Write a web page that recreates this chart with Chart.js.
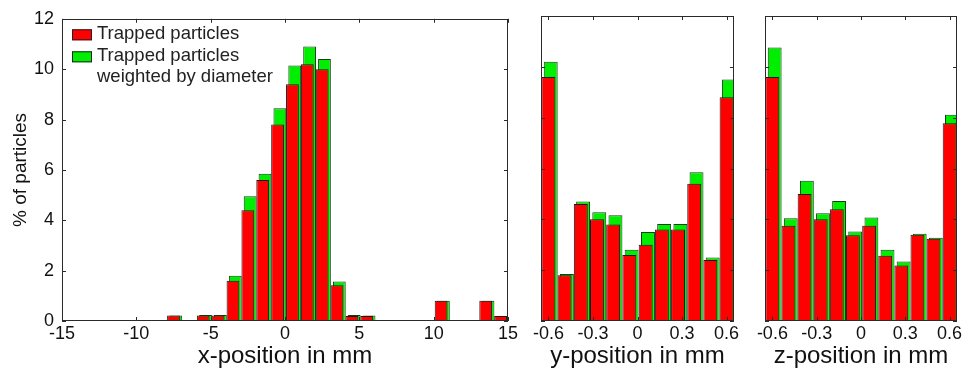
<!DOCTYPE html>
<html>
<head>
<meta charset="utf-8">
<script src="https://cdn.jsdelivr.net/npm/chart.js@4.4.0/dist/chart.umd.min.js"></script>
<style>
body{margin:0;background:#fff;}
#wrap{position:relative;width:972px;height:369px;}
#wrap canvas{position:absolute;left:0;top:0;}
</style>
</head>
<body>
<div id="wrap">
<canvas id="cx" width="972" height="369"></canvas>
<canvas id="cy" width="972" height="369"></canvas>
<canvas id="cz" width="972" height="369"></canvas>
</div>
<script>
// x-position histogram, only the bins that have particles
const xBins=[-7.5,-5.5,-4.5,-3.5,-2.5,-1.5,-0.5,0.5,1.5,2.5,3.5,4.5,5.5,10.5,13.5,14.5];
const xTrapped=[0.22,0.22,0.22,1.6,4.4,5.6,7.8,9.4,10.2,10.0,1.42,0.2,0.2,0.8,0.8,0.2];
const xWeighted=[0.22,0.24,0.24,1.8,4.95,5.85,8.45,10.15,10.9,10.4,1.57,0.24,0.22,0.8,0.8,0.2];

// y and z use the same bin centres
const posBins=[-0.6,-0.491,-0.382,-0.273,-0.164,-0.055,0.055,0.164,0.273,0.382,0.491,0.6];
const yTrapped=[9.6,1.8,4.6,4.0,3.8,2.6,3.0,3.6,3.6,5.4,2.4,8.8];
const yWeighted=[10.2,1.85,4.7,4.28,4.16,2.8,3.5,3.82,3.82,5.85,2.5,9.5];
const zTrapped=[9.6,3.75,5.0,4.0,4.4,3.37,3.75,2.57,2.18,3.39,3.24,7.78];
const zWeighted=[10.76,4.04,5.52,4.24,4.72,3.52,4.07,2.8,2.34,3.43,3.28,8.11];

const xTicks=[-15,-10,-5,0,5,10,15];
const posTicks=[-0.6,-0.3,0,0.3,0.6];
const pctTicks=[0,2,4,6,8,10,12];
const seriesNames=['Trapped particles',['Trapped particles','weighted by diameter']];

const FONT='"Liberation Sans", Arial, Helvetica, sans-serif';
Chart.defaults.font.family=FONT;

// matlab style box with inward ticks
const frame={
  id:'frame',
  afterDraw(chart,args,opts){
    const ctx=chart.ctx,a=chart.chartArea,s=chart.scales;
    ctx.save();
    ctx.strokeStyle='#2a2a2a';
    ctx.lineWidth=1;
    ctx.strokeRect(Math.round(a.left)+0.5,Math.round(a.top)+0.5,Math.round(a.width)-1,Math.round(a.height)-1);
    ctx.beginPath();
    opts.ticks.forEach(v=>{
      const px=Math.round(s.x.getPixelForValue(v))+0.5;
      ctx.moveTo(px,a.bottom);ctx.lineTo(px,a.bottom-4);
      ctx.moveTo(px,a.top);ctx.lineTo(px,a.top+4);
    });
    pctTicks.forEach(v=>{
      const py=Math.round(s.y.getPixelForValue(v))+0.5;
      ctx.moveTo(a.left,py);ctx.lineTo(a.left+4,py);
      ctx.moveTo(a.right,py);ctx.lineTo(a.right-4,py);
    });
    ctx.stroke();
    ctx.restore();
  }
};

const legendBox={
  id:'legendBox',
  afterDraw(chart){
    const ctx=chart.ctx,a=chart.chartArea;
    ctx.save();
    ctx.font='18.5px '+FONT;
    ctx.textBaseline='middle';
    let y=a.top+15.5;
    chart.data.datasets.forEach(d=>{
      ctx.fillStyle=d.backgroundColor;
      ctx.fillRect(a.left+10,y-5,20,11);
      ctx.strokeStyle='#222';
      ctx.strokeRect(a.left+10.5,y-4.5,19,10);
      ctx.fillStyle='#222';
      const lines=[].concat(d.label);
      lines.forEach((t,i)=>ctx.fillText(t,a.left+35,y+i*21));
      y+=22+21*(lines.length-1);
    });
    ctx.restore();
  }
};

function makePanel(id,cfg){
  const areaW=972-cfg.left-cfg.right;
  const shift=(cfg.max-cfg.min)*2.3/areaW;
  const tickFont={size:18,family:FONT};
  return new Chart(document.getElementById(id),{
    type:'bar',
    data:{
      datasets:[
        {label:seriesNames[0],data:cfg.bins.map((b,i)=>({x:b,y:cfg.red[i]})),
         backgroundColor:'#ff0000',borderColor:'#1a1a1a',borderWidth:1,xAxisID:'x'},
        {label:seriesNames[1],data:cfg.bins.map((b,i)=>({x:b,y:cfg.green[i]})),
         backgroundColor:'#00ee00',borderColor:'#1a3a1a',borderWidth:1,xAxisID:'x2'}
      ]
    },
    options:{
      responsive:false,
      animation:false,
      devicePixelRatio:1,
      grouped:false,
      barPercentage:0.86,
      categoryPercentage:1,
      layout:{padding:{left:cfg.showY?0:cfg.left,right:cfg.right,top:16,bottom:0}},
      plugins:{legend:{display:false},tooltip:{enabled:false},frame:{ticks:cfg.ticks}},
      scales:{
        x:{type:'linear',min:cfg.min,max:cfg.max,offset:false,
          afterBuildTicks:s=>{s.ticks=cfg.ticks.map(v=>({value:v}));},
          afterFit:s=>{s.height=48;},
          grid:{display:false,drawTicks:false},border:{display:false},
          ticks:{color:'#111',font:tickFont,padding:2,maxRotation:0,autoSkip:false,callback:v=>String(v)},
          title:{display:true,text:cfg.title,color:'#111',font:{size:24,family:FONT},padding:{top:0,bottom:-2}}
        },
        x2:{type:'linear',display:false,offset:false,min:cfg.min-shift,max:cfg.max-shift},
        y:{min:0,max:12,display:cfg.showY,
          afterBuildTicks:s=>{s.ticks=pctTicks.map(v=>({value:v}));},
          afterFit:s=>{if(cfg.showY)s.width=62;},
          grid:{display:false,drawTicks:false},border:{display:false},
          ticks:{color:'#111',font:tickFont,padding:8},
          title:{display:true,text:'% of particles',color:'#111',font:{size:19,family:FONT},padding:{top:9,bottom:0}}
        }
      }
    },
    plugins:cfg.showY?[frame,legendBox]:[frame]
  });
}

makePanel('cx',{bins:xBins,red:xTrapped,green:xWeighted,min:-15,max:15,ticks:xTicks,
  title:'x-position in mm',left:62,right:464,showY:true});
makePanel('cy',{bins:posBins,red:yTrapped,green:yWeighted,min:-0.65,max:0.65,ticks:posTicks,
  title:'y-position in mm',left:541,right:238,showY:false});
makePanel('cz',{bins:posBins,red:zTrapped,green:zWeighted,min:-0.65,max:0.65,ticks:posTicks,
  title:'z-position in mm',left:765,right:15,showY:false});
</script>
</body>
</html>
